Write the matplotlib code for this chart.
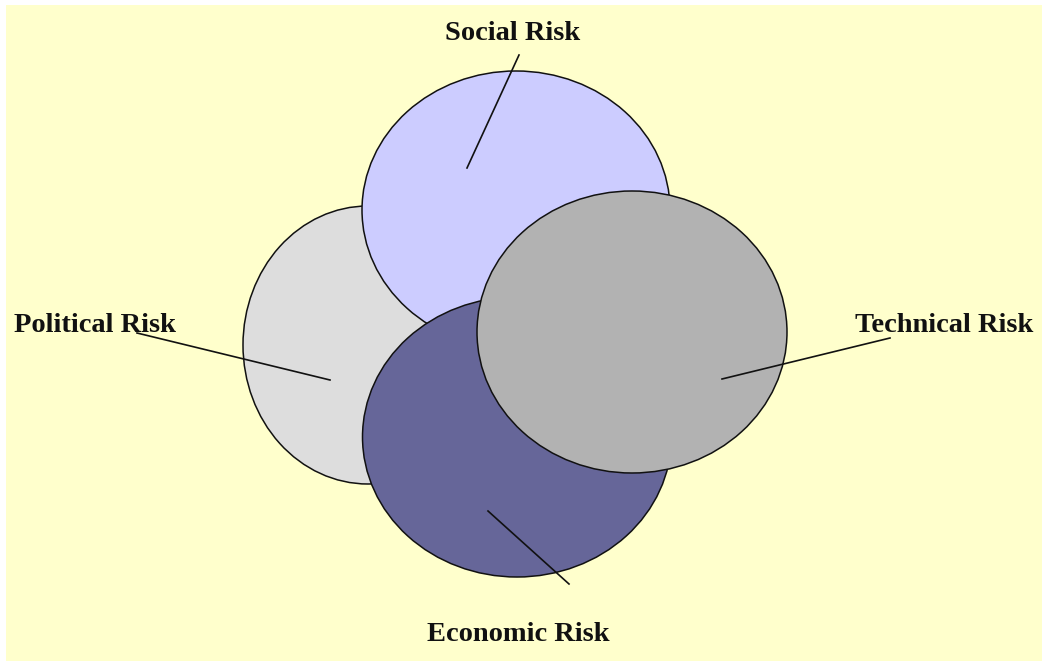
"""Risk overlap diagram: four overlapping ellipses with callout labels."""

import matplotlib
matplotlib.use("Agg")
import matplotlib.pyplot as plt
from matplotlib.patches import Ellipse, Rectangle

# Risk areas, in drawing order (later ones sit on top)
labels = ["Political Risk", "Social Risk", "Economic Risk", "Technical Risk"]
centers = [(368, 345), (516, 210), (517, 437), (632, 332)]
widths = [250, 308, 309, 310]
heights = [278, 278, 280, 282]
fills = ["#DDDDDD", "#CCCCFF", "#666699", "#B2B2B2"]

# Callout text anchors and leader lines (start, end)
label_pos = [(14, 332), (513, 40), (518, 641), (1033, 332)]
label_ha = ["left", "center", "center", "right"]
leaders = [
    ((137, 333), (330, 380)),
    ((519, 55), (467, 168)),
    ((488, 511), (569, 584)),
    ((890, 338), (722, 379)),
]

W, H = 1042, 661
fig = plt.figure(figsize=(W / 100, H / 100), dpi=100)
ax = fig.add_axes([0, 0, 1, 1])
ax.set_xlim(0, W)
ax.set_ylim(H, 0)
ax.axis("off")

ax.add_patch(Rectangle((6, 5), W - 6, H - 5, facecolor="#FFFFCC",
                       edgecolor="none", zorder=0))

for i, (c, w, h, col) in enumerate(zip(centers, widths, heights, fills)):
    ax.add_patch(Ellipse(c, w, h, facecolor=col, edgecolor="#111111",
                         linewidth=1.1, zorder=1 + i))

for (p0, p1) in leaders:
    ax.plot([p0[0], p1[0]], [p0[1], p1[1]], color="#111111",
            linewidth=1.2, zorder=10)

for text, (x, y), ha in zip(labels, label_pos, label_ha):
    ax.text(x, y, text, ha=ha, va="baseline", fontsize=20.5,
            fontweight="bold", family="Liberation Serif", color="#111111",
            zorder=11)

fig.savefig("out.png", dpi=100, facecolor="white")
plt.close(fig)
